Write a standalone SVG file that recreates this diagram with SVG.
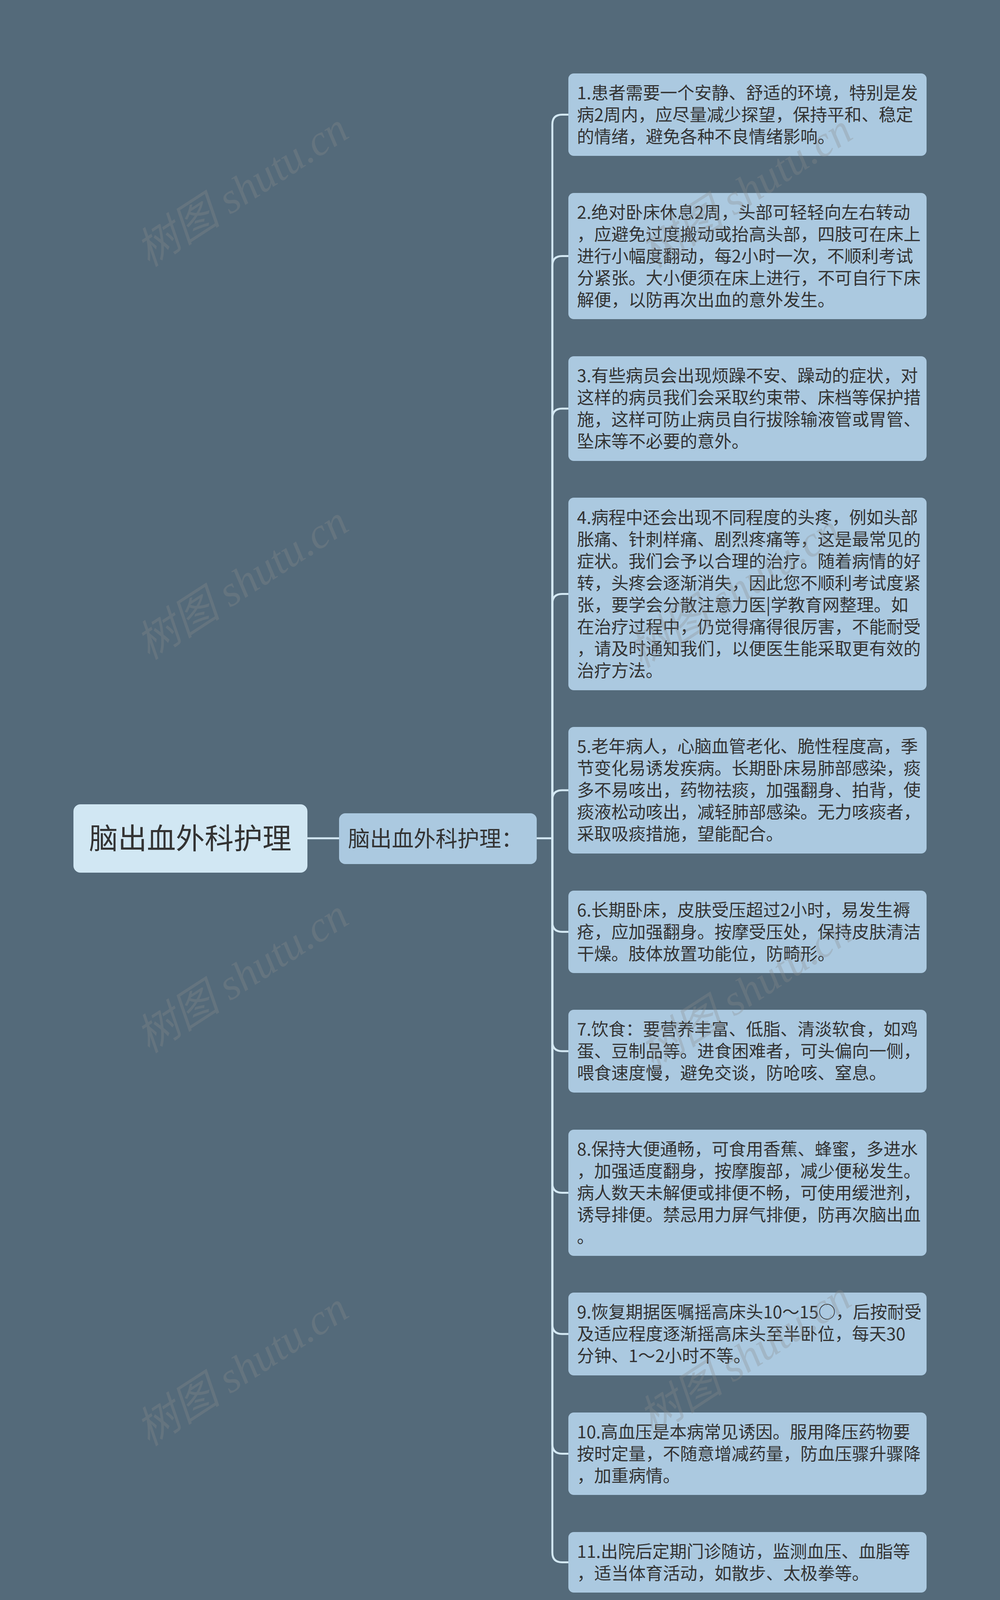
<svg xmlns="http://www.w3.org/2000/svg" width="2560" height="4265" viewBox="0 0 2560 4265">
<style>
.bg{fill:#546a7a}
.root{fill:#d1e7f3}
.leaf{fill:#abc9e0}
.t{font-family:"Noto Sans CJK SC","Noto Sans",sans-serif;fill:#333333}
.lt{font-size:44px}
.ln{fill:none;stroke:#d3e8f3;stroke-width:5;stroke-linecap:round}
.wm{font-family:"Liberation Serif","Noto Sans CJK SC",serif;font-size:110px;fill:#8a8a8a;fill-opacity:0.3;font-style:italic}
</style>
<rect class="bg" x="0" y="0" width="2560" height="4265"/>
<g id="connectors">
<path class="ln" d="M786 2146 H868"/>
<path class="ln" d="M1374 2146 H1414"/>
<path class="ln" d="M1414 2146 V318.5 Q1414 293.5 1439 293.5 H1455"/>
<path class="ln" d="M1414 2146 V680.5 Q1414 655.5 1439 655.5 H1455"/>
<path class="ln" d="M1414 2146 V1071 Q1414 1046 1439 1046 H1455"/>
<path class="ln" d="M1414 2146 V1545.5 Q1414 1520.5 1439 1520.5 H1455"/>
<path class="ln" d="M1414 2146 V2048 Q1414 2023 1439 2023 H1455"/>
<path class="ln" d="M1414 2146 V2360.5 Q1414 2385.5 1439 2385.5 H1455"/>
<path class="ln" d="M1414 2146 V2666 Q1414 2691 1439 2691 H1455"/>
<path class="ln" d="M1414 2146 V3028.5 Q1414 3053.5 1439 3053.5 H1455"/>
<path class="ln" d="M1414 2146 V3390 Q1414 3415 1439 3415 H1455"/>
<path class="ln" d="M1414 2146 V3696.5 Q1414 3721.5 1439 3721.5 H1455"/>
<path class="ln" d="M1414 2146 V3974.5 Q1414 3999.5 1439 3999.5 H1455"/>
</g>
<g id="root">
<rect class="root" x="188" y="2059" width="599" height="175" rx="18"/>
<text class="t" x="487" y="2173" font-size="74" text-anchor="middle">脑出血外科护理</text>
</g>
<g id="sub">
<rect class="leaf" x="868" y="2082" width="506" height="130" rx="16"/>
<text class="t" x="891" y="2167" font-size="56">脑出血外科护理：</text>
</g>
<g id="n1">
<rect class="leaf" x="1455" y="188" width="917" height="211" rx="14"/>
<text class="t lt" x="1477"><tspan x="1477" y="254">1.患者需要一个安静、舒适的环境，特别是发</tspan><tspan x="1477" y="310">病2周内，应尽量减少探望，保持平和、稳定</tspan><tspan x="1477" y="366">的情绪，避免各种不良情绪影响。</tspan></text>
</g>
<g id="n2">
<rect class="leaf" x="1455" y="494" width="917" height="323" rx="14"/>
<text class="t lt"><tspan x="1477" y="560">2.绝对卧床休息2周，头部可轻轻向左右转动</tspan><tspan x="1477" y="616">，应避免过度搬动或抬高头部，四肢可在床上</tspan><tspan x="1477" y="672">进行小幅度翻动，每2小时一次，不顺利考试</tspan><tspan x="1477" y="728">分紧张。大小便须在床上进行，不可自行下床</tspan><tspan x="1477" y="784">解便，以防再次出血的意外发生。</tspan></text>
</g>
<g id="n3">
<rect class="leaf" x="1455" y="912" width="917" height="268" rx="14"/>
<text class="t lt"><tspan x="1477" y="978">3.有些病员会出现烦躁不安、躁动的症状，对</tspan><tspan x="1477" y="1034">这样的病员我们会采取约束带、床档等保护措</tspan><tspan x="1477" y="1090">施，这样可防止病员自行拔除输液管或胃管、</tspan><tspan x="1477" y="1146">坠床等不必要的意外。</tspan></text>
</g>
<g id="n4">
<rect class="leaf" x="1455" y="1274" width="917" height="493" rx="14"/>
<text class="t lt"><tspan x="1477" y="1341">4.病程中还会出现不同程度的头疼，例如头部</tspan><tspan x="1477" y="1397">胀痛、针刺样痛、剧烈疼痛等，这是最常见的</tspan><tspan x="1477" y="1453">症状。我们会予以合理的治疗。随着病情的好</tspan><tspan x="1477" y="1509">转，头疼会逐渐消失，因此您不顺利考试度紧</tspan><tspan x="1477" y="1565">张，要学会分散注意力医|学教育网整理。如</tspan><tspan x="1477" y="1621">在治疗过程中，仍觉得痛得很厉害，不能耐受</tspan><tspan x="1477" y="1677">，请及时通知我们，以便医生能采取更有效的</tspan><tspan x="1477" y="1733">治疗方法。</tspan></text>
</g>
<g id="n5">
<rect class="leaf" x="1455" y="1861" width="917" height="324" rx="14"/>
<text class="t lt"><tspan x="1477" y="1927">5.老年病人，心脑血管老化、脆性程度高，季</tspan><tspan x="1477" y="1983">节变化易诱发疾病。长期卧床易肺部感染，痰</tspan><tspan x="1477" y="2039">多不易咳出，药物祛痰，加强翻身、拍背，使</tspan><tspan x="1477" y="2095">痰液松动咳出，减轻肺部感染。无力咳痰者，</tspan><tspan x="1477" y="2151">采取吸痰措施，望能配合。</tspan></text>
</g>
<g id="n6">
<rect class="leaf" x="1455" y="2280" width="917" height="211" rx="14"/>
<text class="t lt"><tspan x="1477" y="2346">6.长期卧床，皮肤受压超过2小时，易发生褥</tspan><tspan x="1477" y="2402">疮，应加强翻身。按摩受压处，保持皮肤清洁</tspan><tspan x="1477" y="2458">干燥。肢体放置功能位，防畸形。</tspan></text>
</g>
<g id="n7">
<rect class="leaf" x="1455" y="2585" width="917" height="212" rx="14"/>
<text class="t lt"><tspan x="1477" y="2651">7.饮食：要营养丰富、低脂、清淡软食，如鸡</tspan><tspan x="1477" y="2707">蛋、豆制品等。进食困难者，可头偏向一侧，</tspan><tspan x="1477" y="2763">喂食速度慢，避免交谈，防呛咳、窒息。</tspan></text>
</g>
<g id="n8">
<rect class="leaf" x="1455" y="2892" width="917" height="323" rx="14"/>
<text class="t lt"><tspan x="1477" y="2958">8.保持大便通畅，可食用香蕉、蜂蜜，多进水</tspan><tspan x="1477" y="3014">，加强适度翻身，按摩腹部，减少便秘发生。</tspan><tspan x="1477" y="3070">病人数天未解便或排便不畅，可使用缓泄剂，</tspan><tspan x="1477" y="3126">诱导排便。禁忌用力屏气排便，防再次脑出血</tspan><tspan x="1477" y="3182">。</tspan></text>
</g>
<g id="n9">
<rect class="leaf" x="1455" y="3309" width="917" height="212" rx="14"/>
<text class="t lt"><tspan x="1477" y="3375">9.恢复期据医嘱摇高床头10～15○，后按耐受</tspan><tspan x="1477" y="3431">及适应程度逐渐摇高床头至半卧位，每天30</tspan><tspan x="1477" y="3487">分钟、1～2小时不等。</tspan></text>
</g>
<g id="n10">
<rect class="leaf" x="1455" y="3616" width="917" height="211" rx="14"/>
<text class="t lt"><tspan x="1477" y="3682">10.高血压是本病常见诱因。服用降压药物要</tspan><tspan x="1477" y="3738">按时定量，不随意增减药量，防血压骤升骤降</tspan><tspan x="1477" y="3794">，加重病情。</tspan></text>
</g>
<g id="n11">
<rect class="leaf" x="1455" y="3922" width="917" height="155" rx="14"/>
<text class="t lt"><tspan x="1477" y="3988">11.出院后定期门诊随访，监测血压、血脂等</tspan><tspan x="1477" y="4044">，适当体育活动，如散步、太极拳等。</tspan></text>
</g>
<g id="watermarks">
<text class="wm" x="640" y="517" text-anchor="middle" transform="rotate(-33 640 517)">树图 shutu.cn</text>
<text class="wm" x="640" y="1523" text-anchor="middle" transform="rotate(-33 640 1523)">树图 shutu.cn</text>
<text class="wm" x="640" y="2530" text-anchor="middle" transform="rotate(-33 640 2530)">树图 shutu.cn</text>
<text class="wm" x="640" y="3536" text-anchor="middle" transform="rotate(-33 640 3536)">树图 shutu.cn</text>
<text class="wm" x="1930" y="520" text-anchor="middle" transform="rotate(-33 1930 520)">树图 shutu.cn</text>
<text class="wm" x="1900" y="1544" text-anchor="middle" transform="rotate(-33 1900 1544)">树图 shutu.cn</text>
<text class="wm" x="1930" y="2570" text-anchor="middle" transform="rotate(-33 1930 2570)">树图 shutu.cn</text>
<text class="wm" x="1927" y="3507" text-anchor="middle" transform="rotate(-33 1927 3507)">树图 shutu.cn</text>
</g>
</svg>
